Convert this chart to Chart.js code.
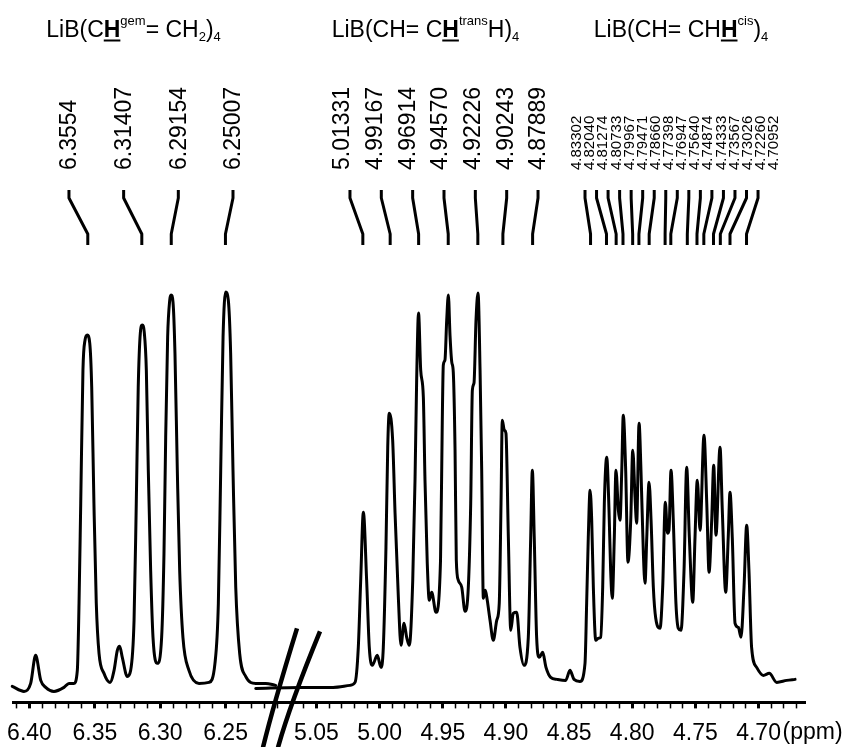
<!DOCTYPE html>
<html>
<head>
<meta charset="utf-8">
<script src="https://cdn.jsdelivr.net/npm/chart.js@4.4.1/dist/chart.umd.min.js"></script>
<style>
  html, body { margin: 0; padding: 0; background: #fff; overflow: hidden; }
</style>
</head>
<body>
<canvas id="nmr" width="848" height="747"></canvas>
<script>
const FONT = "'Liberation Sans', Arial, Helvetica, sans-serif";

// spectrum, left part (6.41 - 6.21 ppm), intensity in arbitrary units
const leftPpm = [6.4132, 6.4042, 6.3991, 6.3953, 6.3914, 6.3876, 6.3813, 6.3736, 6.3698, 6.3660,
  6.3634, 6.3621, 6.3608, 6.3591, 6.3575, 6.3558, 6.3539, 6.3524, 6.3507, 6.3489,
  6.3468, 6.3430, 6.3384, 6.3353, 6.3328, 6.3310, 6.3290, 6.3252, 6.3226, 6.3200,
  6.3183, 6.3168, 6.3152, 6.3137, 6.3122, 6.3106, 6.3091, 6.3073, 6.3055, 6.3022,
  6.2989, 6.2971, 6.2958, 6.2943, 6.2927, 6.2917, 6.2902, 6.2887, 6.2869, 6.2851,
  6.2826, 6.2780, 6.2703, 6.2627, 6.2581, 6.2555, 6.2537, 6.2519, 6.2499, 6.2479,
  6.2461, 6.2443, 6.2422, 6.2392, 6.2346, 6.2269, 6.2193, 6.2117];
const leftInt = [16, 11, 19, 47, 22, 15, 11, 15, 19, 19,
  32, 99, 199, 332, 362, 367, 359, 315, 199, 99,
  49, 29, 20, 32, 52, 56, 45, 26, 32, 82,
  199, 315, 369, 377, 370, 332, 232, 132, 65, 39,
  65, 149, 265, 365, 402, 407, 400, 349, 232, 132,
  65, 32, 19, 20, 39, 99, 232, 365, 410, 402,
  349, 232, 115, 49, 26, 19, 19, 17];

// spectrum, right part (5.10 - 4.67 ppm)
const rightPpm = [5.0981, 5.0631, 5.0369, 5.0235, 5.0195, 5.0169, 5.0150, 5.0129, 5.0103, 5.0082,
  5.0058, 5.0019, 4.9989, 4.9971, 4.9950, 4.9936, 4.9924, 4.9897, 4.9878, 4.9852,
  4.9831, 4.9807, 4.9786, 4.9765, 4.9738, 4.9720, 4.9707, 4.9692, 4.9675, 4.9654,
  4.9641, 4.9623, 4.9607, 4.9588, 4.9554, 4.9518, 4.9504, 4.9496, 4.9483, 4.9469,
  4.9456, 4.9443, 4.9429, 4.9417, 4.9403, 4.9393, 4.9377, 4.9350, 4.9324, 4.9298,
  4.9279, 4.9266, 4.9253, 4.9237, 4.9221, 4.9205, 4.9192, 4.9179, 4.9163, 4.9148,
  4.9126, 4.9100, 4.9073, 4.9053, 4.9039, 4.9029, 4.9013, 4.9000, 4.8981, 4.8962,
  4.8942, 4.8915, 4.8889, 4.8857, 4.8823, 4.8804, 4.8791, 4.8776, 4.8757, 4.8736,
  4.8709, 4.8683, 4.8646, 4.8596, 4.8527, 4.8493, 4.8461, 4.8414, 4.8374, 4.8361,
  4.8348, 4.8334, 4.8321, 4.8308, 4.8289, 4.8269, 4.8250, 4.8234, 4.8221, 4.8202,
  4.8184, 4.8171, 4.8158, 4.8142, 4.8129, 4.8110, 4.8097, 4.8083, 4.8071, 4.8052,
  4.8034, 4.8012, 4.7996, 4.7978, 4.7965, 4.7946, 4.7931, 4.7912, 4.7899, 4.7885,
  4.7867, 4.7851, 4.7833, 4.7814, 4.7780, 4.7759, 4.7738, 4.7721, 4.7709, 4.7693,
  4.7675, 4.7654, 4.7635, 4.7614, 4.7590, 4.7569, 4.7548, 4.7521, 4.7503, 4.7485,
  4.7463, 4.7432, 4.7410, 4.7392, 4.7371, 4.7355, 4.7337, 4.7305, 4.7287, 4.7260,
  4.7240, 4.7226, 4.7208, 4.7186, 4.7160, 4.7139, 4.7115, 4.7094, 4.7076, 4.7055,
  4.7015, 4.6962, 4.6915, 4.6856, 4.6777, 4.6711];
const rightInt = [14, 15, 15, 17, 20, 55, 122, 190, 122, 55,
  37, 47, 35, 55, 155, 255, 289, 262, 189, 105,
  57, 79, 65, 57, 122, 222, 322, 389, 332, 305,
  222, 139, 102, 110, 90, 142, 282, 337, 342, 382,
  407, 367, 340, 330, 252, 142, 122, 115, 91, 115,
  199, 312, 319, 382, 409, 332, 232, 104, 112, 102,
  82, 62, 82, 99, 199, 282, 272, 269, 165, 72,
  89, 90, 55, 37, 65, 165, 232, 165, 65, 45,
  50, 35, 25, 23, 22, 32, 23, 21, 39, 99,
  165, 212, 182, 115, 62, 64, 65, 115, 199, 245,
  192, 132, 104, 165, 232, 192, 182, 232, 287, 232,
  140, 182, 252, 205, 179, 279, 232, 149, 119, 165,
  220, 182, 115, 84, 74, 115, 200, 169, 172, 232,
  182, 99, 74, 72, 132, 235, 165, 100, 165, 222,
  172, 267, 199, 130, 182, 237, 167, 255, 192, 110,
  165, 210, 165, 79, 75, 65, 115, 177, 132, 55,
  35, 27, 29, 20, 22, 23];

// peak picking labels
const gemLabels = ['6.3554', '6.31407', '6.29154', '6.25007'];
const transLabels = ['5.01331', '4.99167', '4.96914', '4.94570', '4.92226', '4.90243', '4.87889'];
const cisLabels = ['4.83302', '4.82040', '4.81274', '4.80733', '4.79967', '4.79471', '4.78660', '4.77398',
  '4.76947', '4.75640', '4.74874', '4.74333', '4.73567', '4.73026', '4.72260', '4.70952'];

// axis ranges of the two halves of the broken axis
const leftRange = [6.20451, 6.41262];
const rightRange = [4.66322, 5.07494];

const groups = [
  { axis: 'xl', labels: gemLabels, size: 23, label: [6.3698, 6.2443], lead: [6.3698, 6.2443],
    center: 6.3204,
    title: [{ t: 'LiB(C' }, { t: 'H', s: 'b' }, { t: 'gem', s: 'sup' }, { t: '= CH' }, { t: '2', s: 'sub' }, { t: ')' }, { t: '4', s: 'sub' }] },
  { axis: 'xr', labels: transLabels, size: 23, label: [5.0300, 4.8746], lead: [5.0235, 4.8746],
    center: 4.9637,
    title: [{ t: 'LiB(CH= C' }, { t: 'H', s: 'b' }, { t: 'trans', s: 'sup' }, { t: 'H)' }, { t: '4', s: 'sub' }] },
  { axis: 'xr', labels: cisLabels, size: 15, label: [4.8445, 4.6886], lead: [4.8374, 4.7004],
    center: 4.7614,
    title: [{ t: 'LiB(CH= CH' }, { t: 'H', s: 'b' }, { t: 'cis', s: 'sup' }, { t: ')' }, { t: '4', s: 'sub' }] }
];

function partFont(s) {
  if (s === 'b') return 'bold 23px ' + FONT;
  if (s === 'sup' || s === 'sub') return '13px ' + FONT;
  return '23px ' + FONT;
}

function drawRich(ctx, parts, cx, base) {
  const widths = parts.map(p => { ctx.font = partFont(p.s); return ctx.measureText(p.t).width; });
  const total = widths.reduce((a, b) => a + b, 0);
  let x = cx - total / 2;
  parts.forEach((p, i) => {
    ctx.font = partFont(p.s);
    const dy = p.s === 'sup' ? -12 : p.s === 'sub' ? 4 : 0;
    ctx.fillText(p.t, x, base + dy);
    if (p.s === 'b') ctx.fillRect(x, base + 2.5, widths[i], 2);
    x += widths[i];
  });
}

const annotations = {
  id: 'annotations',
  afterDraw(chart) {
    const ctx = chart.ctx;
    const xl = chart.scales.xl, xr = chart.scales.xr;
    ctx.save();
    ctx.fillStyle = '#000';
    ctx.strokeStyle = '#000';

    groups.forEach(g => {
      const sc = chart.scales[g.axis];
      // group title
      ctx.textAlign = 'left';
      ctx.textBaseline = 'alphabetic';
      drawRich(ctx, g.title, sc.getPixelForValue(g.center), 37);

      const n = g.labels.length;
      g.labels.forEach((txt, i) => {
        const t = i / (n - 1);
        const lx = sc.getPixelForValue(g.label[0] + (g.label[1] - g.label[0]) * t);
        const tx = sc.getPixelForValue(g.lead[0] + (g.lead[1] - g.lead[0]) * t);
        const bx = sc.getPixelForValue(parseFloat(txt));
        // rotated value
        ctx.save();
        ctx.translate(lx, 170);
        ctx.rotate(-Math.PI / 2);
        ctx.font = g.size + 'px ' + FONT;
        ctx.textAlign = 'left';
        ctx.textBaseline = 'middle';
        ctx.fillText(txt, 0, 1);
        ctx.restore();
        // leader line
        ctx.lineWidth = 3;
        ctx.lineJoin = 'round';
        ctx.beginPath();
        ctx.moveTo(tx, 190);
        ctx.lineTo(tx, 198);
        ctx.lineTo(bx, 234);
        ctx.lineTo(bx, 245);
        ctx.stroke();
      });
    });

    // axis break marks
    const bx = xl.right, by = xl.top;
    ctx.lineWidth = 4.5;
    ctx.lineCap = 'butt';
    [[-22, 45, -12, 4, 12, -74], [-7, 45, 5, 2, 35, -71]].forEach(m => {
      ctx.beginPath();
      ctx.moveTo(bx + m[0], by + m[1]);
      ctx.quadraticCurveTo(bx + m[2], by + m[3], bx + m[4], by + m[5]);
      ctx.stroke();
    });

    // unit
    ctx.font = '23px ' + FONT;
    ctx.textAlign = 'left';
    ctx.textBaseline = 'middle';
    ctx.fillText('(ppm)', xr.getPixelForValue(4.70) + 24, 733);
    ctx.restore();
  }
};

function isMajor(v) {
  return Math.abs(v * 20 - Math.round(v * 20)) < 1e-6;
}

function axisOptions(range, weight) {
  return {
    type: 'linear',
    position: 'bottom',
    stack: 'ppm',
    stackWeight: weight,
    reverse: true,
    min: range[0],
    max: range[1],
    border: { display: true, color: '#000', width: 3 },
    grid: {
      drawOnChartArea: false,
      drawTicks: true,
      tickLength: 6,
      tickColor: '#000',
      tickWidth: c => (c.tick && isMajor(c.tick.value)) ? 3 : 1.5
    },
    ticks: {
      stepSize: 0.01,
      includeBounds: false,
      autoSkip: false,
      maxRotation: 0,
      minRotation: 0,
      padding: 11,
      color: '#000',
      font: { family: FONT, size: 23 },
      callback: v => isMajor(v) ? v.toFixed(2) : ''
    }
  };
}

const lineStyle = {
  borderColor: '#000',
  borderWidth: 3,
  pointRadius: 0,
  fill: false,
  clip: false,
  cubicInterpolationMode: 'monotone',
  borderJoinStyle: 'round',
  borderCapStyle: 'round'
};

new Chart(document.getElementById('nmr'), {
  type: 'line',
  data: {
    datasets: [
      Object.assign({ label: 'left', xAxisID: 'xl', yAxisID: 'y',
        data: leftPpm.map((x, i) => ({ x, y: leftInt[i] })) }, lineStyle),
      Object.assign({ label: 'right', xAxisID: 'xr', yAxisID: 'y',
        data: rightPpm.map((x, i) => ({ x, y: rightInt[i] })) }, lineStyle)
    ]
  },
  options: {
    responsive: false,
    animation: false,
    devicePixelRatio: 1,
    layout: { padding: { top: 270, left: 13, right: 43, bottom: -11 } },
    plugins: { legend: { display: false }, tooltip: { enabled: false } },
    scales: {
      xl: axisOptions(leftRange, 272),
      xr: axisOptions(rightRange, 520),
      y: { display: false, min: 0, max: 432 }
    }
  },
  plugins: [annotations]
});
</script>
</body>
</html>
